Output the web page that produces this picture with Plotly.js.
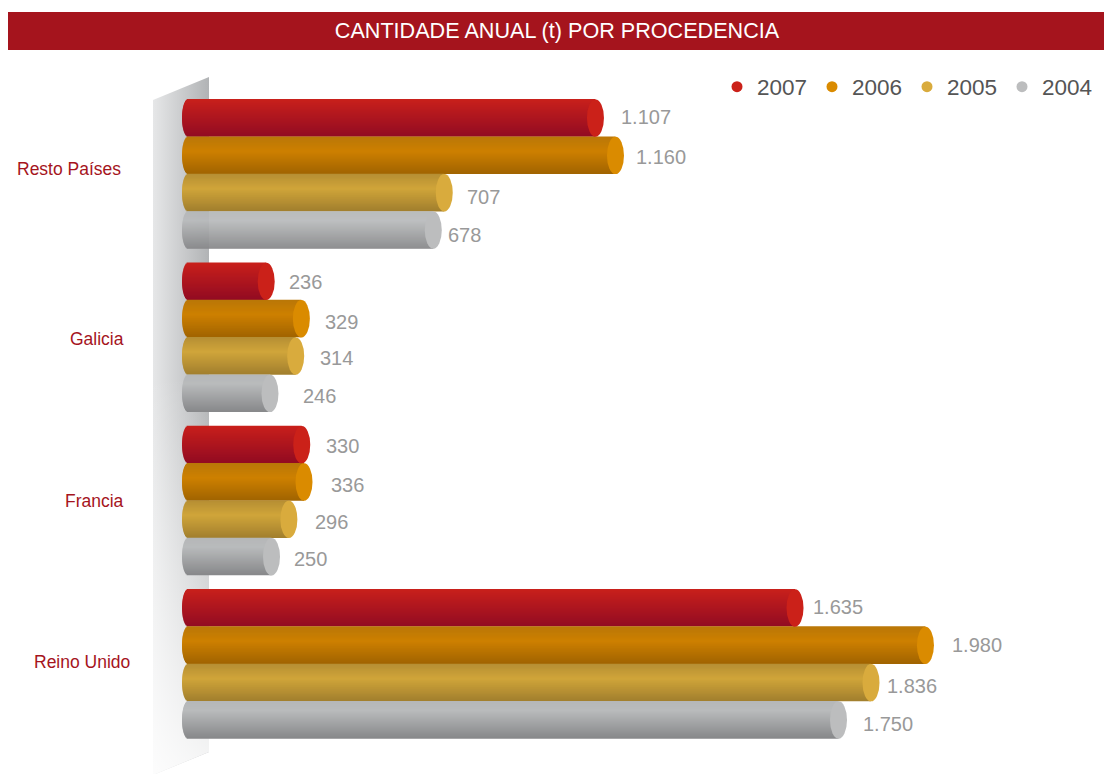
<!DOCTYPE html>
<html><head><meta charset="utf-8">
<script src="https://cdn.plot.ly/plotly-3.0.1.min.js"></script>
<style>html,body{margin:0;padding:0;background:#fff}#c{width:1104px;height:774px}</style>
</head><body><div id="c"></div>
<script>
// ---- data ----
const categories = ['Reino Unido','Francia','Galicia','Resto Países'];
const years = ['2007','2006','2005','2004'];
const values2007 = [1635,330,236,1107];
const values2006 = [1980,336,329,1160];
const values2005 = [1836,296,314,707];
const values2004 = [1750,250,246,678];
const seriesValues = [values2007,values2006,values2005,values2004];

// ---- style ----
const W=1104,H=774;
const pxPerValue=0.378, zeroPx=177;
const groupPx=163.3, rowPx=37.35, firstGroupCenterPx=664;
const capRx=8.5, leftRx=6, leftEdgePx=182;
const ramps=[
 [[0,'#c9201b'],[1,'#920b22']],
 [[0,'#b97708'],[.4,'#cd8000'],[1,'#a16400']],
 [[0,'#b58e33'],[.4,'#d0a53a'],[1,'#a27f2e']],
 [[0,'#b5b7b8'],[.25,'#b9bbbc'],[1,'#87888a']]
];
const capColors=['#cb2119','#da8b00','#d9ab3d','#bcbdbe'];
const labelNudge=[0,1.5,3,4];
// per-label fine placement, px: [category][series]; positive dy moves a label down
const labelDx=[[-7,2,-9,0],[0,2,2,-2],[-2,-1,0,9],[1,-4,-2,-10]];
const labelDy=[[-1,-2,0,0],[1,1,0,-2],[1,2,-1,-1],[-1,0,1,1]];
const catLabelStyle=[{right:132,dy:2},{right:126,dy:0},{right:126,dy:-1.5},{right:123,dy:5}];

const hex=c=>[1,3,5].map(i=>parseInt(c.substr(i,2),16));
function rampAt(r,t){
  for(let i=1;i<r.length;i++){ if(t<=r[i][0]){
    const a=r[i-1],b=r[i],u=(t-a[0])/(b[0]-a[0]);
    const A=hex(a[1]),B=hex(b[1]);
    return 'rgb('+A.map((v,k)=>Math.round(v+(B[k]-v)*u)).join(',')+')';
  }}
  return r[r.length-1][1];
}
const fmt=v=>String(v).replace(/\B(?=(\d{3})+$)/g,'.');
const h=rowPx/groupPx, s=1/groupPx, nStrips=Math.round(rowPx);
const rowCenter=k=>(1.5-k)*h; // offset from the category position, k=0 on top

const traces=[];
seriesValues.forEach((vals,k)=>{
  for(let j=0;j<nStrips;j++){
    const t=(j+.5)/nStrips, e=2*t-1;
    const inset=(leftEdgePx-zeroPx+leftRx*(1-Math.sqrt(1-e*e)))/pxPerValue;
    traces.push({type:'bar',orientation:'h',y:categories,
      x:vals.map(v=>v-inset),base:vals.map(()=>inset),
      width:s*1.6,offset:rowCenter(k)+h/2-(j+1)*s-s*.3,
      marker:{color:rampAt(ramps[k],t),line:{width:0}},
      showlegend:false,hoverinfo:'skip',name:years[k]});
  }
});
years.forEach((y,k)=>traces.push({type:'scatter',mode:'markers',x:[null],y:[null],name:y,
  marker:{color:capColors[k],size:11,symbol:'circle'},showlegend:true,hoverinfo:'skip'}));

const shapes=[{type:'rect',xref:'paper',yref:'paper',x0:8/W,x1:1,y0:1-50/H,y1:1-12/H,
  fillcolor:'#a5141d',line:{width:0},layer:'below'}];
const annotations=[];
categories.forEach((c,i)=>{
  seriesValues.forEach((vals,k)=>{
    const v=vals[i], yc=i+rowCenter(k), rx=capRx/pxPerValue;
    shapes.push({type:'circle',xref:'x',yref:'y',layer:'above',x0:v-rx,x1:v+rx,y0:yc-h/2,y1:yc+h/2,
      fillcolor:capColors[k],line:{width:0}});
    annotations.push({xref:'x',yref:'y',x:v,y:yc,text:fmt(v),showarrow:false,xanchor:'left',
      xshift:capRx+14+labelDx[i][k],yshift:-labelNudge[k]-labelDy[i][k],font:{family:'Liberation Sans, Arial, sans-serif',size:20,color:'#999999'}});
  });
  const st=catLabelStyle[i];
  annotations.push({xref:'paper',yref:'y',x:st.right/W,y:i,text:c,showarrow:false,xanchor:'right',
    yshift:st.dy,font:{family:'Liberation Sans, Arial, sans-serif',size:17.5,color:'#a5141d'}});
});

// side wall drawn as a gradient picture behind the bars
function wallImage(){
  const cv=document.createElement('canvas');cv.width=56;cv.height=698;
  const g=cv.getContext('2d');
  g.beginPath();g.moveTo(0,23);g.lineTo(56,0);g.lineTo(56,675);g.lineTo(0,698);g.closePath();g.clip();
  const a=g.createLinearGradient(0,0,56,0);a.addColorStop(0,'#e6e7e8');a.addColorStop(1,'#b1b3b5');
  g.fillStyle=a;g.fillRect(0,0,56,698);
  const b=g.createLinearGradient(0,300,0,698);b.addColorStop(0,'rgba(255,255,255,0)');b.addColorStop(1,'rgba(255,255,255,.9)');
  g.fillStyle=b;g.fillRect(0,0,56,698);
  return cv.toDataURL('image/png');
}

const layout={
  width:W,height:H,margin:{l:0,r:0,t:0,b:0,autoexpand:false},paper_bgcolor:'#fff',plot_bgcolor:'rgba(0,0,0,0)',
  barmode:'overlay',hovermode:false,
  title:{text:'CANTIDADE ANUAL (t) POR PROCEDENCIA',x:557/W,xanchor:'center',y:1-30/H,yanchor:'middle',automargin:false,
    font:{family:'Liberation Sans, Arial, sans-serif',size:21.6,color:'#fff'}},
  xaxis:{visible:false,range:[-zeroPx/pxPerValue,(W-zeroPx)/pxPerValue],fixedrange:true},
  yaxis:{visible:false,type:'category',categoryorder:'array',categoryarray:categories,
    range:[(firstGroupCenterPx-H)/groupPx,firstGroupCenterPx/groupPx],fixedrange:true},
  legend:{orientation:'h',x:717/W,xanchor:'left',y:1-87/H,yanchor:'middle',entrywidth:50,entrywidthmode:'pixels',
    bgcolor:'rgba(0,0,0,0)',font:{family:'Liberation Sans, Arial, sans-serif',size:22.5,color:'#555555'}},
  shapes,annotations,
  images:[{source:wallImage(),xref:'paper',yref:'paper',x:153/W,y:1-77/H,sizex:56/W,sizey:698/H,
    sizing:'stretch',xanchor:'left',yanchor:'top',layer:'below'}]
};
Plotly.newPlot('c',traces,layout,{displayModeBar:false,staticPlot:true});
</script></body></html>
